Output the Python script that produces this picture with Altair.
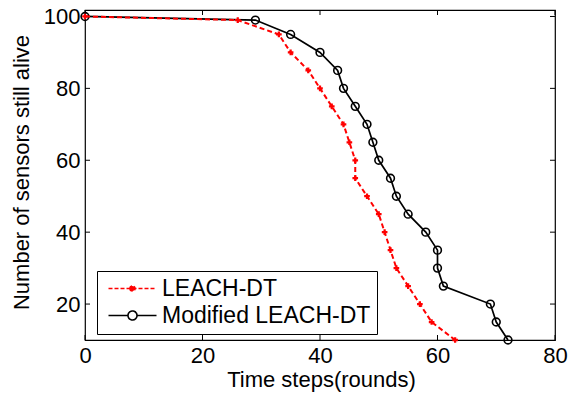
import altair as alt
import pandas as pd

series_names = ["LEACH-DT", "Modified LEACH-DT"]
leach_x = [0, 26, 33, 35, 38, 40, 42, 44, 45, 46, 46, 48, 50, 51, 52, 53, 55, 57, 59, 63]
leach_y = [100, 99, 95, 90, 85, 80, 75, 70, 65, 60, 55, 50, 45, 40, 35, 30, 25, 20, 15, 10]
mod_x = [0, 29, 35, 40, 43, 44, 46, 48, 49, 50, 52, 53, 55, 58, 60, 60, 61, 69, 70, 72]
mod_y = [100, 99, 95, 90, 85, 80, 75, 70, 65, 60, 55, 50, 45, 40, 35, 30, 25, 20, 15, 10]
x_ticks = [0, 20, 40, 60, 80]
y_ticks = [20, 40, 60, 80, 100]

rows = []
for i, (x, y) in enumerate(zip(leach_x, leach_y)):
    rows.append({"series": series_names[0], "i": i, "t": x, "n": y})
for i, (x, y) in enumerate(zip(mod_x, mod_y)):
    rows.append({"series": series_names[1], "i": i, "t": x, "n": y})
df = pd.DataFrame(rows)
xt = pd.DataFrame({"v": x_ticks})
yt = pd.DataFrame({"v": y_ticks})

FONT = "Liberation Sans"
xscale = alt.Scale(domain=[0, 80], nice=False, zero=False)
yscale = alt.Scale(domain=[10, 101.8], nice=False, zero=False)

xaxis = alt.Axis(values=x_ticks, ticks=False, grid=False, domain=False, labelFlush=False,
                 labelOverlap=False, labelFont=FONT, labelFontSize=22, labelColor="black",
                 labelPadding=22, labelBaseline="alphabetic",
                 title="Time steps(rounds)", titleFont=FONT, titleFontSize=22,
                 titleFontWeight="normal", titleColor="black", titleX=236, titleY=46.5,
                 titleBaseline="alphabetic", titleAlign="center")
yaxis = alt.Axis(values=y_ticks, ticks=False, grid=False, domain=False, labelFlush=False,
                 labelOverlap=False, labelFont=FONT, labelFontSize=22, labelColor="black",
                 labelPadding=5, labelAlign="right", labelBaseline="middle",
                 title="Number of sensors still alive", titleFont=FONT, titleFontSize=22,
                 titleFontWeight="normal", titleColor="black", titleX=-57, titleY=162,
                 titleAngle=270, titleBaseline="alphabetic", titleAlign="center")

X = alt.X("t:Q", scale=xscale, axis=xaxis)
Y = alt.Y("n:Q", scale=yscale, axis=yaxis)

base = alt.Chart(df)

black_line = base.transform_filter(alt.datum.series == series_names[1]).mark_line(
    color="black", strokeWidth=1.7).encode(x=X, y=Y, order="i:Q")
black_pts = base.transform_filter(alt.datum.series == series_names[1]).mark_point(
    shape="circle", size=60, filled=False, color="black", strokeWidth=1.6, opacity=1).encode(x=X, y=Y)
red_line = base.transform_filter(alt.datum.series == series_names[0]).mark_line(
    color="#ff0000", strokeWidth=2, strokeDash=[5, 3]).encode(x=X, y=Y, order="i:Q")
red_pts = base.transform_filter(alt.datum.series == series_names[0]).mark_point(
    shape="cross", size=32, filled=True, color="#ff0000", opacity=1).encode(x=X, y=Y)

red_path = "M-4,0H4M-0.42,0A0.42,0.42,0,1,0,0.42,0A0.42,0.42,0,1,0,-0.42,0Z"
black_path = "M-4,0H-0.75A0.75,0.75,0,1,1,0.75,0A0.75,0.75,0,1,1,-0.75,0M0.75,0H4"

leg = alt.Legend(title=None, orient="none", legendX=12, legendY=261, padding=6,
                 strokeColor="black", fillColor="white", labelFont=FONT, labelFontSize=23,
                 labelColor="black", symbolSize=144, symbolStrokeWidth=1.6, rowPadding=3,
                 labelOffset=18, symbolOffset=18, labelLimit=400, cornerRadius=0)

legend_layer = base.transform_filter("false").mark_point(filled=True, opacity=1, strokeWidth=1.6).encode(
    x=X, y=Y,
    shape=alt.Shape("series:N", scale=alt.Scale(domain=series_names, range=[red_path, black_path]), legend=leg),
    stroke=alt.Stroke("series:N", scale=alt.Scale(domain=series_names, range=["#ff0000", "black"]), legend=leg),
    fill=alt.Fill("series:N", scale=alt.Scale(domain=series_names, range=["#ff0000", "white"]), legend=leg),
    strokeDash=alt.StrokeDash("series:N", scale=alt.Scale(domain=series_names, range=[[4, 2], [1, 0]]), legend=leg),
)

tick_style = dict(color="black", strokeWidth=1)
ytick_l = alt.Chart(yt).mark_rule(**tick_style).encode(
    y=alt.Y("v:Q", scale=yscale, axis=yaxis), x=alt.value(0), x2=alt.value(5))
ytick_r = alt.Chart(yt).mark_rule(**tick_style).encode(
    y=alt.Y("v:Q", scale=yscale, axis=yaxis), x=alt.value(465), x2=alt.value(470))
xtick_b = alt.Chart(xt).mark_rule(**tick_style).encode(
    x=alt.X("v:Q", scale=xscale, axis=xaxis), y=alt.value(325), y2=alt.value(330))
xtick_t = alt.Chart(xt).mark_rule(**tick_style).encode(
    x=alt.X("v:Q", scale=xscale, axis=xaxis), y=alt.value(0), y2=alt.value(5))

chart = alt.layer(
    ytick_l, ytick_r, xtick_b, xtick_t,
    black_line, black_pts, red_line, red_pts, legend_layer
).properties(
    width=470, height=330,
    autosize=alt.AutoSizeParams(type="none"),
    padding={"left": 85, "top": 10, "right": 17, "bottom": 54},
    background="white",
).configure_view(
    stroke="black", strokeWidth=1.2
)

chart.save("out.html", embed_options={"renderer": "svg", "actions": False})
